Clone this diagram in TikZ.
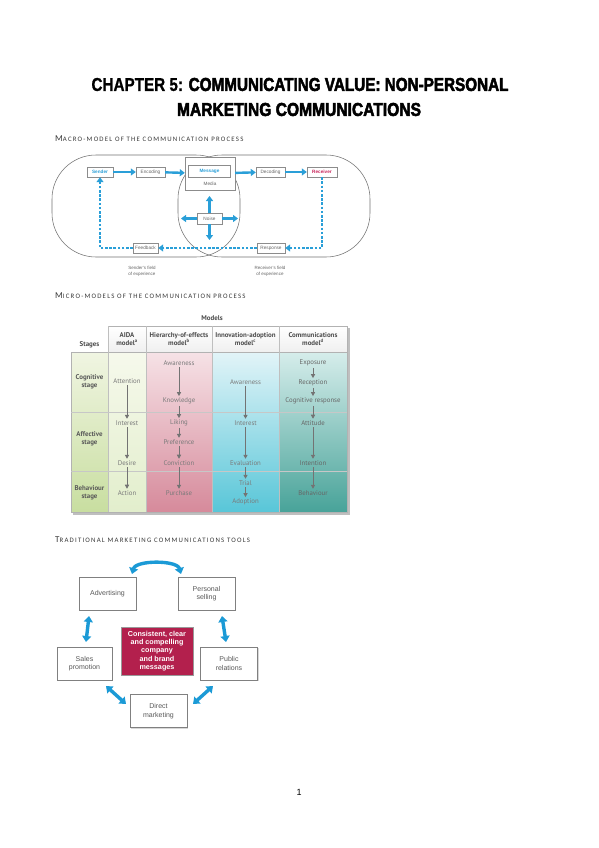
\documentclass[tikz,border=0pt]{standalone}
\usepackage{fontspec}
\setmainfont{Liberation Sans}
\newfontfamily\carl[LetterSpace=18]{Carlito}
\newfontfamily\ptsans{PT Sans}
\newfontfamily\heavy[BoldFeatures={FakeBold=3}]{Liberation Sans}
\newfontfamily\semiheavy[BoldFeatures={FakeBold=1}]{Liberation Sans}
\usetikzlibrary{arrows.meta,shadows,calc}
\definecolor{mblue}{HTML}{2A9FD8}
\definecolor{tblue}{HTML}{1B9AD6}
\definecolor{mred}{HTML}{C8245A}
\definecolor{boxred}{HTML}{B3204D}
\definecolor{headgray}{HTML}{383838}
\definecolor{tgray}{HTML}{7A7A7A}
\begin{document}
\begin{tikzpicture}[x=1pt,y=-1pt,
  every node/.style={inner sep=0pt},
  heading/.style={anchor=base west, text=headgray},
  mbox/.style={draw=black!45, fill=white, line width=0.4pt, minimum height=10pt, inner sep=1pt,
     font=\fontsize{4.7}{5.7}\selectfont, text=black!60,
     drop shadow={shadow xshift=0.8pt,shadow yshift=-0.8pt,opacity=0.25}},
  barrow/.style={draw=mblue, line width=2.4pt, -{Triangle[width=7pt,length=5pt]}},
  dasharrow/.style={draw=mblue, line width=2.3pt, dash pattern=on 2.6pt off 1.6pt, -{Triangle[width=7pt,length=5pt]}},
  ttext/.style={font=\ptsans\fontsize{6.8}{7.8}\selectfont, text=tgray, inner sep=1.6pt, align=center},
  thead/.style={font=\ptsans\bfseries\fontsize{6.9}{7.7}\selectfont, text=black!70, align=center},
  tarr/.style={draw=black!55, line width=0.8pt, -{Triangle[width=4.2pt,length=4pt]}},
  tool/.style={draw=black!50, fill=white, line width=0.5pt, minimum width=57pt, minimum height=33pt,
     font=\fontsize{7}{8.4}\selectfont, text=black!65, align=center,
     drop shadow={shadow xshift=1.2pt,shadow yshift=-1.2pt,opacity=0.3}},
  darr/.style={draw=tblue, line width=3.4pt, {Triangle[width=9pt,length=6pt]}-{Triangle[width=9pt,length=6pt]}}
]
\useasboundingbox[fill=white] (0,0) rectangle (599,848);

% ---------- Title ----------
\node (t1) at (300,84.5) {\resizebox{417pt}{13pt}{{\semiheavy\bfseries CHAPTER 5: }{\heavy\bfseries COMMUNICATING VALUE: NON-PERSONAL}}};
\node (t2) at (299,109.5) {\resizebox{244pt}{13pt}{\heavy\bfseries MARKETING COMMUNICATIONS}};

% ---------- Headings ----------
\node[heading] (h1) at (55,141) {\carl{\fontsize{9}{9}\selectfont M}{\fontsize{6.8}{7}\selectfont ACRO-MODEL OF THE COMMUNICATION PROCESS}};
\node[heading] (h2) at (55,298) {\carl{\fontsize{9}{9}\selectfont M}{\fontsize{6.8}{7}\selectfont ICRO-MODELS OF THE COMMUNICATION PROCESS}};
\node[heading] (h3) at (55,542) {\carl{\fontsize{9}{9}\selectfont T}{\fontsize{6.8}{7}\selectfont RADITIONAL MARKETING COMMUNICATIONS TOOLS}};

% ---------- Macro model ----------
\draw[black!55, line width=0.55pt, rounded corners=44pt] (52,155) rectangle (240,257);
\draw[black!55, line width=0.55pt, rounded corners=44pt] (178,155) rectangle (370,257);

\node[mbox, minimum width=26pt] (sender) at (100,172) {\textcolor{mblue}{\bfseries Sender}};
\node[mbox, minimum width=29pt] (encoding) at (150.5,172) {Encoding};
\node[mbox, minimum width=50pt, minimum height=33pt] (media) at (210,173.5) {};
\node[mbox, minimum width=42pt, minimum height=12pt, drop shadow={opacity=0}] (message) at (209.5,171) {\textcolor{mblue}{\bfseries Message}};
\node[font=\fontsize{4.7}{5.7}\selectfont, text=black!60] (medialbl) at (210,184) {Media};
\node[mbox, minimum width=29pt] (decoding) at (270.5,172) {Decoding};
\node[mbox, minimum width=30pt] (receiver) at (322,172) {\textcolor{mred}{\bfseries Receiver}};
\node[mbox, minimum width=25pt, minimum height=11pt] (noise) at (209.5,218.5) {Noise};
\node[mbox, minimum width=25pt] (feedback) at (145.5,248) {Feedback};
\node[mbox, minimum width=28pt] (response) at (271,248) {Response};

\draw[barrow] (sender) -- (encoding);
\draw[barrow] (encoding) -- (media);
\draw[barrow] (media) -- (decoding);
\draw[barrow] (decoding) -- (receiver);

\coordinate (nup) at (209.5,196);
\coordinate (nleft) at (181,218.5);
\coordinate (nright) at (238,218.5);
\coordinate (ndown) at (209.5,240);
\draw[barrow] (noise.north) -- (nup);
\draw[barrow] (noise.west) -- (nleft);
\draw[barrow] (noise.east) -- (nright);
\draw[barrow] (noise.south) -- (ndown);

\draw[dasharrow] (receiver.south) |- (response.east);
\draw[dasharrow] (response.west) -- (feedback.east);
\draw[dasharrow] (feedback.west) -| (sender.south);

\node[font=\fontsize{4.5}{5.5}\selectfont, text=black!60, align=center] (sfield) at (142,271.5) {Sender's field\\of experience};
\node[font=\fontsize{4.5}{5.5}\selectfont, text=black!60, align=center] (rfield) at (270,271.5) {Receiver's field\\of experience};

% ---------- Micro models table ----------
\fill[black!25] (110,328) rectangle (349.5,514.5);
\fill[black!25] (73,354) rectangle (349.5,514.5);
\shade[top color=white, bottom color=black!6] (108,326) rectangle (347,352);
\shade[top color={rgb,255:red,240;green,245;blue,226}, bottom color={rgb,255:red,200;green,222;blue,160}] (71,352) rectangle (108,512);
\shade[top color={rgb,255:red,246;green,249;blue,236}, bottom color={rgb,255:red,226;green,238;blue,204}] (108,352) rectangle (146,512);
\shade[top color={rgb,255:red,246;green,226;blue,230}, bottom color={rgb,255:red,214;green,138;blue,155}] (146,352) rectangle (212,512);
\shade[top color={rgb,255:red,226;green,244;blue,248}, bottom color={rgb,255:red,88;green,198;blue,216}] (212,352) rectangle (279,512);
\shade[top color={rgb,255:red,214;green,237;blue,235}, bottom color={rgb,255:red,72;green,163;blue,153}] (279,352) rectangle (347,512);
\draw[black!30, line width=0.5pt] (108,326) rectangle (347,352);
\draw[black!30, line width=0.5pt] (71,352) rectangle (347,512);
\foreach \xx in {108,146,212,279} \draw[black!25, line width=0.5pt] (\xx,326) -- (\xx,512);
\foreach \yy in {412,471} \draw[black!22, line width=0.5pt] (71,\yy) -- (347,\yy);

\node[thead] (models) at (212,318) {Models};
\node[thead] (stages) at (89.5,345) {Stages};
\node[thead] (haida) at (127,339) {AIDA\\model\textsuperscript{a}};
\node[thead] (hhier) at (179,339) {Hierarchy-of-effects\\model\textsuperscript{b}};
\node[thead] (hinno) at (245.5,339) {Innovation-adoption\\model\textsuperscript{c}};
\node[thead] (hcomm) at (313,339) {Communications\\model\textsuperscript{d}};

\node[thead, text=black!65] (scog) at (89.5,382) {Cognitive\\stage};
\node[thead, text=black!65] (saff) at (89.5,439) {Affective\\stage};
\node[thead, text=black!65] (sbeh) at (89.5,493) {Behaviour\\stage};

% AIDA
\node[ttext] (a1) at (127,381) {Attention};
\node[ttext] (a2) at (127,423) {Interest};
\node[ttext] (a3) at (127,463) {Desire};
\node[ttext] (a4) at (127,493) {Action};
\draw[tarr] (a1) -- (a2);
\draw[tarr] (a2) -- (a3);
\draw[tarr] (a3) -- (a4);
% Hierarchy
\node[ttext] (b1) at (179,363) {Awareness};
\node[ttext] (b2) at (179,401) {Knowledge};
\node[ttext] (b3) at (179,423) {Liking};
\node[ttext] (b4) at (179,442) {Preference};
\node[ttext] (b5) at (179,463) {Conviction};
\node[ttext] (b6) at (179,493) {Purchase};
\draw[tarr] (b1) -- (b2);
\draw[tarr] (b2) -- (b3);
\draw[tarr] (b3) -- (b4);
\draw[tarr] (b4) -- (b5);
\draw[tarr] (b5) -- (b6);
% Innovation
\node[ttext] (c1) at (245.5,382) {Awareness};
\node[ttext] (c2) at (245.5,423) {Interest};
\node[ttext] (c3) at (245.5,463) {Evaluation};
\node[ttext] (c4) at (245.5,483) {Trial};
\node[ttext] (c5) at (245.5,502) {Adoption};
\draw[tarr] (c1) -- (c2);
\draw[tarr] (c2) -- (c3);
\draw[tarr] (c3) -- (c4);
\draw[tarr] (c4) -- (c5);
% Communications
\node[ttext, text=black!60] (d1) at (313,363) {Exposure};
\node[ttext, text=black!60] (d2) at (313,383) {Reception};
\node[ttext, text=black!60] (d3) at (313,401) {Cognitive response};
\node[ttext, text=black!60] (d4) at (313,423) {Attitude};
\node[ttext, text=black!60] (d5) at (313,463) {Intention};
\node[ttext, text=black!60] (d6) at (313,493) {Behaviour};
\draw[tarr] (d1) -- (d2);
\draw[tarr] (d2) -- (d3);
\draw[tarr] (d3) -- (d4);
\draw[tarr] (d4) -- (d5);
\draw[tarr] (d5) -- (d6);

% ---------- Traditional tools ----------
\node[tool] (adv) at (107.5,593.5) {Advertising};
\node[tool] (ps) at (206.5,593.5) {Personal\\selling};
\node[tool, minimum width=55pt] (sp) at (84.5,663.5) {Sales\\promotion};
\node[tool] (pr) at (229,663.5) {Public\\relations};
\node[tool] (dm) at (158.5,711) {Direct\\marketing};
\node[draw=black!40, fill=boxred, minimum width=72pt, minimum height=48pt, text=white,
      font=\bfseries\fontsize{7.2}{8.4}\selectfont, align=center,
      drop shadow={shadow xshift=1.2pt,shadow yshift=-1.2pt,opacity=0.3}] (core) at (157,651)
      {Consistent, clear\\and compelling\\company\\and brand\\messages};

\coordinate (arcL) at (132,574);
\coordinate (arcR) at (181,574);
\draw[darr] (arcL) .. controls (136,560) and (177,560) .. (arcR);
\coordinate (asA) at (89,616);
\coordinate (asB) at (86,642);
\draw[darr] (asA) -- (asB);
\coordinate (ppA) at (222,616);
\coordinate (ppB) at (226,642);
\draw[darr] (ppA) -- (ppB);
\coordinate (sdA) at (106,686);
\coordinate (sdB) at (126,704);
\draw[darr] (sdA) -- (sdB);
\coordinate (pdA) at (213,686);
\coordinate (pdB) at (193,704);
\draw[darr] (pdA) -- (pdB);

\node[font=\fontsize{9}{10}\selectfont] (pg) at (299,792) {1};
\end{tikzpicture}
\end{document}
